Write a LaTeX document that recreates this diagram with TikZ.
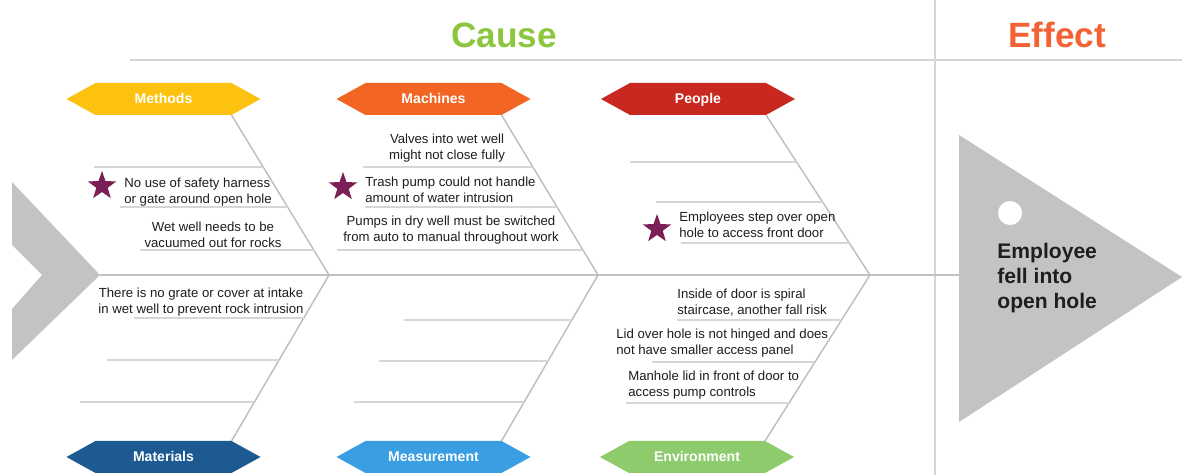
\documentclass[tikz,border=0pt]{standalone}
\usepackage{fontspec}
\setmainfont{Liberation Sans}
\usetikzlibrary{shapes.geometric,calc}

\definecolor{methodsc}{HTML}{FDC210}
\definecolor{machinesc}{HTML}{F26522}
\definecolor{peoplec}{HTML}{C8281F}
\definecolor{materialsc}{HTML}{1D5A91}
\definecolor{measurec}{HTML}{3A9EE2}
\definecolor{environc}{HTML}{8DCB6C}
\definecolor{causec}{HTML}{8CC63F}
\definecolor{effectc}{HTML}{F26234}
\definecolor{starc}{HTML}{7C1F56}
\definecolor{shapegray}{HTML}{C3C3C3}
\definecolor{ruleg}{HTML}{D6D6D6}
\definecolor{boneg}{HTML}{BDBDBD}
\definecolor{inkc}{HTML}{1E1E1E}

% category tag: hexagon filled with colour #4, centred at (#2,#3), named #1
\newcommand\catbox[5]{%
  \fill[#4] ($(#2,#3)+(-97,0)$) -- ++(29,-16) -- ++(136,0) -- ++(29,16)
            -- ++(-29,16) -- ++(-136,0) -- cycle;
  \node[catlabel] (#1) at (#2,#3) {#5};
}

\tikzset{
  catlabel/.style={font=\fontsize{8}{9}\selectfont\bfseries, text=white, inner sep=0pt,
    text height=6pt, text depth=0.4pt},
  note/.style={font=\fontsize{7.5}{9.1}\selectfont, text=inkc, inner sep=0pt},
  title/.style={font=\fontsize{20}{24}\selectfont\bfseries, inner sep=0pt, anchor=base},
  causestar/.style={star, star points=5, star point ratio=2.5, fill=starc,
    minimum size=0.6cm, inner sep=0pt},
  frameline/.style={draw=ruleg, line width=1.2pt},
  spineline/.style={draw=ruleg!90!black, line width=1.4pt},
  boneline/.style={draw=boneg, line width=0.8pt},
  subline/.style={draw=ruleg, line width=0.9pt},
}

\begin{document}
\begin{tikzpicture}[x=0.02cm, y=-0.02cm]
\useasboundingbox (0,0) rectangle (1182,475);
\fill[white] (0,0) rectangle (1182,475);

% frame: heading rule and cause/effect divider
\coordinate (ruleL) at (130,60);
\coordinate (ruleR) at (1182,60);
\coordinate (divT) at (935,0);
\coordinate (divB) at (935,475);
\draw[frameline] (ruleL) -- (ruleR);
\draw[frameline] (divT) -- (divB);

\node[title, text=causec] (cause) at (504,48) {Cause};
\node[title, text=effectc] (effect) at (1057,48) {Effect};

% spine
\coordinate (tail) at (100,275);
\coordinate (head) at (959,275);
\coordinate (jA) at (329,275);
\coordinate (jB) at (598,275);
\coordinate (jC) at (870,275);
\draw[spineline] (tail) -- (head);

% category tags
\catbox{methods}{163.5}{99}{methodsc}{Methods}
\catbox{machines}{433.5}{99}{machinesc}{Machines}
\catbox{people}{698}{99}{peoplec}{People}
\catbox{materials}{163.5}{457}{materialsc}{Materials}
\catbox{measurement}{433.5}{457}{measurec}{Measurement}
\catbox{environment}{697}{457}{environc}{Environment}

% bone attachment corners
\coordinate (mtop) at ($(methods)+(68,16)$);
\coordinate (ctop) at ($(machines)+(68,16)$);
\coordinate (ptop) at ($(people)+(68,16)$);
\coordinate (abot) at ($(materials)+(68,-16)$);
\coordinate (sbot) at ($(measurement)+(68,-16)$);
\coordinate (ebot) at ($(environment)+(68,-16)$);

% main bones
\draw[boneline] (mtop) -- (jA);
\draw[boneline] (ctop) -- (jB);
\draw[boneline] (ptop) -- (jC);
\draw[boneline] (jA) -- (abot);
\draw[boneline] (jB) -- (sbot);
\draw[boneline] (jC) -- (ebot);

% minor bones, upper half
\draw[subline] (94,167)  -- ($(mtop)!0.325!(jA)$);
\draw[subline] (120,207) -- ($(mtop)!0.575!(jA)$);
\draw[subline] (140,250) -- ($(mtop)!0.84375!(jA)$);
\draw[subline] (363,167) -- ($(ctop)!0.325!(jB)$);
\draw[subline] (365,207) -- ($(ctop)!0.575!(jB)$);
\draw[subline] (337,250) -- ($(ctop)!0.84375!(jB)$);
\draw[subline] (630,162) -- ($(ptop)!0.29375!(jC)$);
\draw[subline] (656,202) -- ($(ptop)!0.54375!(jC)$);
\draw[subline] (681,243) -- ($(ptop)!0.8!(jC)$);

% minor bones, lower half
\draw[subline] (134,318) -- ($(jA)!0.259!(abot)$);
\draw[subline] (107,360) -- ($(jA)!0.512!(abot)$);
\draw[subline] (80,402)  -- ($(jA)!0.765!(abot)$);
\draw[subline] (404,320) -- ($(jB)!0.271!(sbot)$);
\draw[subline] (379,361) -- ($(jB)!0.518!(sbot)$);
\draw[subline] (354,402) -- ($(jB)!0.765!(sbot)$);
\draw[subline] (677,320) -- ($(jC)!0.271!(ebot)$);
\draw[subline] (652,362) -- ($(jC)!0.524!(ebot)$);
\draw[subline] (626,403) -- ($(jC)!0.771!(ebot)$);

% fish tail
\fill[shapegray] (12,182) -- (tail) -- (12,360) -- (12,309) -- (42,275) -- (12,245) -- cycle;

% fish head with the effect
\fill[shapegray] (959,135) -- (1182,277) -- (959,422) -- cycle;
\fill[white] (1010,213) circle[radius=0.24cm];
\node[font=\fontsize{12}{14.2}\selectfont\bfseries, text=inkc, inner sep=0pt,
      align=left, anchor=west] (problem) at (997,278)
  {Employee\\fell into\\open hole};

% causes
\node[note, align=left, anchor=west] (c1) at (124,192)
  {No use of safety harness\\or gate around open hole};
\node[note, align=center] (c2) at (213,235)
  {Wet well needs to be\\vacuumed out for rocks};
\node[note, align=center] (c3) at (201,302)
  {There is no grate or cover at intake\\in wet well to prevent rock intrusion};
\node[note, align=center] (c4) at (447,148)
  {Valves into wet well\\might not close fully};
\node[note, align=left, anchor=west] (c5) at (365,190)
  {Trash pump could not handle\\amount of water intrusion};
\node[note, align=center] (c6) at (451,230)
  {Pumps in dry well must be switched\\from auto to manual throughout work};
\node[note, align=left, anchor=west] (c7) at (679,225)
  {Employees step over open\\hole to access front door};
\node[note, align=left, anchor=west] (c8) at (677,303)
  {Inside of door is spiral\\staircase, another fall risk};
\node[note, align=left, anchor=west] (c9) at (616,343)
  {Lid over hole is not hinged and does\\not have smaller access panel};
\node[note, align=left, anchor=west] (c10) at (628,385)
  {Manhole lid in front of door to\\access pump controls};

% key causes
\node[causestar] (s1) at (102,186) {};
\node[causestar] (s2) at (343,187) {};
\node[causestar] (s3) at (657,229) {};
\end{tikzpicture}
\end{document}
